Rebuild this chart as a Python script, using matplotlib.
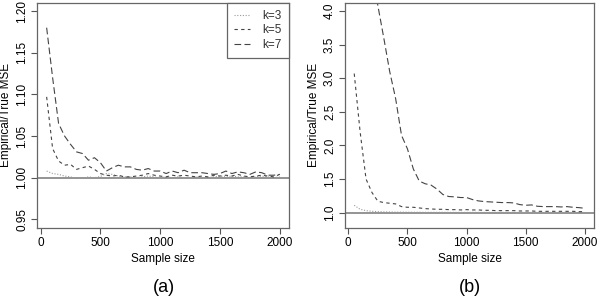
#!/usr/bin/env python3
"""Empirical/True MSE ratio against sample size, two panels."""

import matplotlib
matplotlib.use("Agg")
import matplotlib.pyplot as plt

# sample sizes (x axis)
sample_sizes = [50, 100, 150, 200, 250, 300, 350, 400, 450, 500,
                550, 600, 650, 700, 750, 800, 850, 900, 950, 1000,
                1050, 1100, 1150, 1200, 1250, 1300, 1350, 1400, 1450, 1500,
                1550, 1600, 1650, 1700, 1750, 1800, 1850, 1900, 1950, 2000]

# panel (a)
a_k3 = [1.008, 1.005, 1.004, 1.002, 1.001, 0.999, 0.9995, 1.001, 1.000, 1.0015,
        1.005, 1.004, 1.002, 1.001, 1.001, 1.000, 1.001, 1.002, 1.001, 1.000,
        1.001, 1.000, 1.001, 1.000, 1.000, 1.001, 1.000, 1.000, 1.001, 1.002,
        1.001, 1.002, 1.001, 1.001, 1.000, 1.001, 1.002, 1.001, 1.000, 1.001]
a_k5 = [1.097, 1.035, 1.020, 1.015, 1.016, 1.010, 1.012, 1.014, 1.010, 1.005,
        1.003, 1.002, 1.003, 1.001, 1.001, 1.002, 1.003, 1.005, 1.003, 1.002,
        1.001, 1.003, 1.002, 1.003, 1.002, 1.001, 1.002, 1.001, 1.003, 1.002,
        1.003, 1.002, 1.004, 1.002, 1.001, 1.002, 1.003, 1.002, 1.001, 1.004]
a_k7 = [1.180, 1.120, 1.065, 1.050, 1.040, 1.031, 1.029, 1.021, 1.024, 1.018,
        1.008, 1.012, 1.015, 1.013, 1.013, 1.010, 1.009, 1.011, 1.008, 1.008,
        1.005, 1.008, 1.006, 1.009, 1.006, 1.006, 1.006, 1.005, 1.004, 1.005,
        1.008, 1.005, 1.007, 1.006, 1.004, 1.007, 1.006, 1.003, 1.003, 1.004]

# panel (b)
b_k3 = [1.110, 1.050, 1.030, 1.020, 1.015, 1.012, 1.010, 1.008, 1.008, 1.007,
        1.006, 1.006, 1.005, 1.005, 1.005, 1.005, 1.004, 1.004, 1.004, 1.004,
        1.004, 1.004, 1.004, 1.004, 1.004, 1.003, 1.003, 1.003, 1.003, 1.003,
        1.003, 1.003, 1.003, 1.003, 1.003, 1.003, 1.003, 1.003, 1.003, 1.003]
b_k5 = [3.070, 2.200, 1.500, 1.300, 1.170, 1.150, 1.140, 1.130, 1.090, 1.080,
        1.080, 1.070, 1.060, 1.055, 1.050, 1.050, 1.045, 1.045, 1.040, 1.045,
        1.040, 1.040, 1.035, 1.035, 1.030, 1.030, 1.030, 1.030, 1.025, 1.025,
        1.025, 1.020, 1.020, 1.020, 1.020, 1.020, 1.020, 1.020, 1.015, 1.015]
b_k7 = [9.000, 7.000, 5.600, 4.600, 4.080, 3.600, 3.100, 2.700, 2.150, 1.950,
        1.650, 1.470, 1.430, 1.410, 1.350, 1.270, 1.240, 1.235, 1.225, 1.225,
        1.195, 1.175, 1.165, 1.160, 1.155, 1.150, 1.150, 1.145, 1.120, 1.110,
        1.115, 1.095, 1.090, 1.090, 1.090, 1.085, 1.090, 1.080, 1.075, 1.065]

labels = ["k=3", "k=5", "k=7"]

plt.rcParams["font.family"] = ["Liberation Sans", "DejaVu Sans"]

styles = [
    dict(color="#9a9a9a", linestyle=(0, (1, 1.5)), linewidth=0.8),
    dict(color="#444444", linestyle=(0, (3, 3)), linewidth=0.8),
    dict(color="#444444", linestyle=(0, (6, 3)), linewidth=0.8),
]


def style_axes(ax, yticks, ylim):
    ax.set_xlim(-28, 2078)
    ax.set_ylim(*ylim)
    ax.set_xticks([0, 500, 1000, 1500, 2000])
    ax.set_yticks(yticks)
    ax.set_yticklabels([f"{t:.2f}" if ylim[1] < 2 else f"{t:.1f}" for t in yticks],
                       rotation=90, va="center")
    ax.tick_params(direction="out", length=4.5, width=0.8, color="#555555",
                   labelsize=8.5, pad=2)
    for sp in ax.spines.values():
        sp.set_color("#666666")
        sp.set_linewidth(0.9)
    ax.axhline(1.0, color="#777777", linewidth=1.1, zorder=1)
    ax.set_xlabel("Sample size", fontsize=8.5, labelpad=3)
    ax.set_ylabel("Empirical/True MSE", fontsize=8.5, labelpad=3)


fig = plt.figure(figsize=(6.0, 2.96), dpi=100)
ax_a = fig.add_axes([0.0622, 0.2307, 0.4195, 0.7602])
ax_b = fig.add_axes([0.575, 0.2307, 0.415, 0.7602])

for ys, lab, st in zip([a_k3, a_k5, a_k7], labels, styles):
    ax_a.plot(sample_sizes, ys, label=lab, **st)
for ys, st in zip([b_k3, b_k5, b_k7], styles):
    ax_b.plot(sample_sizes, ys, **st)

style_axes(ax_a, [0.95, 1.00, 1.05, 1.10, 1.15, 1.20], (0.94, 1.21))
style_axes(ax_b, [1.0, 1.5, 2.0, 2.5, 3.0, 3.5, 4.0], (0.776, 4.124))

leg = ax_a.legend(loc="upper right", borderaxespad=0, fancybox=False,
                  edgecolor="#666666", fontsize=8.5, handlelength=1.3,
                  handletextpad=1.1, labelspacing=0.22, borderpad=0.6,
                  framealpha=1)
leg.get_frame().set_linewidth(0.9)
for t in leg.get_texts():
    t.set_color("#333333")

fig.text(0.2725, 0.0, "(a)", ha="center", va="bottom", fontsize=13)
fig.text(0.783, 0.0, "(b)", ha="center", va="bottom", fontsize=13)

fig.savefig("out.png", dpi=100)
